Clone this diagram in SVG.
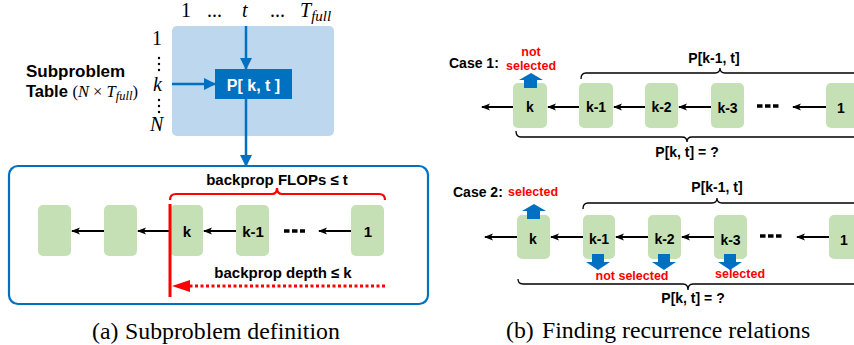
<svg xmlns="http://www.w3.org/2000/svg" width="854" height="345" viewBox="0 0 854 345">
<defs>
<style>
.b{fill:#c5e0b4}
.sans{font-family:"Liberation Sans",Arial,sans-serif;font-weight:bold}
.lbl{font-family:"Liberation Sans",Arial,sans-serif;font-weight:bold;font-size:15px;fill:#000;text-anchor:middle}
.lbl2{font-family:"Liberation Sans",Arial,sans-serif;font-weight:bold;font-size:14px;fill:#000;text-anchor:middle}
.red{font-family:"Liberation Sans",Arial,sans-serif;font-weight:bold;font-size:12.5px;fill:#ff0000;text-anchor:middle}
.math{font-family:"Liberation Serif","Times New Roman",serif;font-style:italic;font-size:20px;fill:#000}
.num{font-family:"Liberation Serif","Times New Roman",serif;font-size:20px;fill:#000}
.cap{font-family:"Liberation Serif","Times New Roman",serif;font-size:23.8px;fill:#000}
.arr{stroke:#000;stroke-width:2;fill:none;marker-end:url(#ah)}
.dash{stroke:#000;stroke-width:3.5;stroke-dasharray:5.5,2.5;fill:none}
.brace{stroke:#000;stroke-width:1.3;fill:none}
.barrow{fill:#0070c0}
</style>
<marker id="ah" markerWidth="9" markerHeight="8" refX="8" refY="4" orient="auto" markerUnits="userSpaceOnUse">
<path d="M0,0.6 L9,4 L0,7.4 L2.2,4 Z" fill="#000"/>
</marker>
<marker id="bh" markerWidth="12" markerHeight="12" refX="11" refY="6" orient="auto" markerUnits="userSpaceOnUse">
<path d="M0,0 L12,6 L0,12 Z" fill="#0070c0"/>
</marker>
</defs>

<!-- (a) Subproblem table -->
<g id="table">
<rect x="172" y="26" width="162" height="110" rx="5" fill="#bdd7ee"/>
<text class="num" x="181" y="17">1</text>
<text class="num" x="207" y="17">...</text>
<text class="math" x="242" y="17">t</text>
<text class="num" x="270" y="17">...</text>
<text class="math" x="300" y="17">T<tspan font-size="15" dy="4">full</tspan></text>
<text class="num" x="152" y="45">1</text>
<g fill="#000"><circle cx="159" cy="58" r="1.2"/><circle cx="159" cy="64" r="1.2"/><circle cx="159" cy="70" r="1.2"/><circle cx="159" cy="100" r="1.2"/><circle cx="159" cy="106" r="1.2"/><circle cx="159" cy="112" r="1.2"/></g>
<text class="math" x="153" y="91">k</text>
<text class="math" x="150" y="131">N</text>
<text class="sans" x="26" y="77" font-size="17">Subproblem</text>
<text x="26" y="97"><tspan class="sans" font-size="16.5">Table </tspan><tspan font-family="Liberation Serif,serif" font-size="16.5">(</tspan><tspan font-family="Liberation Serif,serif" font-style="italic" font-size="16.5">N</tspan><tspan font-family="Liberation Serif,serif" font-size="16.5"> × </tspan><tspan font-family="Liberation Serif,serif" font-style="italic" font-size="16.5">T</tspan><tspan font-family="Liberation Serif,serif" font-style="italic" font-size="12.5" dy="3">full</tspan><tspan font-family="Liberation Serif,serif" font-size="16.5" dy="-3">)</tspan></text>
</g>
<g id="pkt">
<rect x="215" y="69" width="77" height="30" fill="#0070c0"/>
<text class="sans" x="253.5" y="91" font-size="16" fill="#fff" text-anchor="middle">P[ k, t ]</text>
</g>

<!-- (a) detail box -->
<g id="detail">
<rect x="9" y="166" width="419" height="138" rx="9" fill="none" stroke="#0070c0" stroke-width="2.2"/>
</g>
<g id="a-n1"><rect class="b" x="38" y="205" width="33" height="51" rx="5"/></g>
<g id="a-n2"><rect class="b" x="104" y="205" width="33" height="51" rx="5"/></g>
<g id="a-k"><rect class="b" x="170" y="205" width="33" height="51" rx="5"/><text class="lbl" x="187" y="237">k</text></g>
<g id="a-k1"><rect class="b" x="236" y="205" width="33" height="51" rx="5"/><text class="lbl" x="253" y="237">k-1</text></g>
<g id="a-1"><rect class="b" x="351" y="205" width="33" height="51" rx="5"/><text class="lbl" x="368" y="237">1</text></g>
<text class="sans" x="277" y="185" font-size="15" text-anchor="middle">backprop FLOPs ≤ t</text>
<text class="sans" x="283" y="278" font-size="15" text-anchor="middle">backprop depth ≤ k</text>

<!-- (b) case 1 -->
<text class="sans" x="449" y="68" font-size="14">Case 1:</text>
<text class="red" x="531" y="56">not</text>
<text class="red" x="531" y="70">selected</text>
<g id="c1-k"><rect class="b" x="513" y="83" width="34" height="45" rx="5"/><text class="lbl2" x="530" y="112">k</text></g>
<g id="c1-k1"><rect class="b" x="579" y="83" width="34" height="45" rx="5"/><text class="lbl2" x="596" y="112">k-1</text></g>
<g id="c1-k2"><rect class="b" x="645" y="83" width="33" height="45" rx="5"/><text class="lbl2" x="661.5" y="112">k-2</text></g>
<g id="c1-k3"><rect class="b" x="711" y="83" width="33" height="45" rx="5"/><text class="lbl2" x="727.5" y="113">k-3</text></g>
<g id="c1-1"><rect class="b" x="826" y="83" width="34" height="45" rx="5"/><text class="lbl2" x="841" y="113">1</text></g>
<text class="sans" x="714" y="63" font-size="14" text-anchor="middle">P[k-1, t]</text>
<text class="sans" x="687" y="157" font-size="14" text-anchor="middle">P[k, t] = ?</text>

<!-- (b) case 2 -->
<text class="sans" x="453" y="197" font-size="14">Case 2:</text>
<text class="red" x="533" y="196">selected</text>
<g id="c2-k"><rect class="b" x="517" y="215" width="33" height="44" rx="5"/><text class="lbl2" x="533" y="244">k</text></g>
<g id="c2-k1"><rect class="b" x="583" y="215" width="32" height="44" rx="5"/><text class="lbl2" x="599" y="244">k-1</text></g>
<g id="c2-k2"><rect class="b" x="648" y="215" width="33" height="44" rx="5"/><text class="lbl2" x="664.5" y="244">k-2</text></g>
<g id="c2-k3"><rect class="b" x="714" y="215" width="33" height="44" rx="5"/><text class="lbl2" x="730.5" y="245">k-3</text></g>
<g id="c2-1"><rect class="b" x="829" y="215" width="34" height="44" rx="5"/><text class="lbl2" x="844" y="245">1</text></g>
<text class="red" x="632" y="280">not selected</text>
<text class="red" x="740" y="278">selected</text>
<text class="sans" x="717" y="192" font-size="14" text-anchor="middle">P[k-1, t]</text>
<text class="sans" x="693" y="303" font-size="14" text-anchor="middle">P[k, t] = ?</text>

<!-- captions -->
<text class="cap" x="92" y="339">(a)</text>
<text class="cap" x="125" y="339">Subproblem definition</text>
<text class="cap" x="506" y="338">(b)</text>
<text class="cap" x="542" y="338">Finding recurrence relations</text>

<!-- connectors -->
<g id="connectors">
<line x1="246" y1="26" x2="246" y2="69" stroke="#0070c0" stroke-width="2.5" marker-end="url(#bh)"/>
<line x1="172" y1="84" x2="215" y2="84" stroke="#0070c0" stroke-width="2.5" marker-end="url(#bh)"/>
<line x1="246" y1="99" x2="246" y2="166" stroke="#0070c0" stroke-width="2.5" marker-end="url(#bh)"/>

<line class="arr" x1="104" y1="231" x2="72" y2="231"/>
<line class="arr" x1="170" y1="231" x2="138" y2="231"/>
<line class="arr" x1="236" y1="231" x2="204" y2="231"/>
<line class="dash" x1="284" y1="231" x2="305" y2="231"/>
<line class="arr" x1="351" y1="231" x2="319" y2="231"/>

<path d="M170,200 Q170,194 176,194 L272,194 Q277,194 277,188 Q277,194 282,194 L379,194 Q385,194 385,200" fill="none" stroke="#ff0000" stroke-width="2.2"/>
<line x1="170" y1="204" x2="170" y2="297" stroke="#ff0000" stroke-width="3"/>
<line x1="385" y1="286" x2="190" y2="286" stroke="#ff0000" stroke-width="3" stroke-dasharray="3,2.5"/>
<polygon points="172,286 190,280 190,292" fill="#ff0000"/>

<line class="arr" x1="513" y1="107" x2="482" y2="107"/>
<line class="arr" x1="579" y1="107" x2="548" y2="107"/>
<line class="arr" x1="645" y1="107" x2="614" y2="107"/>
<line class="arr" x1="711" y1="107" x2="679" y2="107"/>
<line class="dash" x1="757" y1="106" x2="779" y2="106"/>
<line class="arr" x1="826" y1="107" x2="793" y2="107"/>
<path class="brace" d="M581,79 Q581,73 586,73 L715,73 Q720,73 720,68 Q720,73 725,73 L870,73"/>
<path class="brace" d="M516,131 Q516,137 521,137 L682,137 Q687,137 687,142 Q687,137 692,137 L870,137"/>
<path class="barrow" d="M531,73 L543,80 L537,80 L537,88 L524,88 L524,80 L519,80 Z"/>

<line class="arr" x1="517" y1="237" x2="485" y2="237"/>
<line class="arr" x1="583" y1="237" x2="551" y2="237"/>
<line class="arr" x1="648" y1="237" x2="616" y2="237"/>
<line class="arr" x1="714" y1="237" x2="682" y2="237"/>
<line class="dash" x1="760" y1="236" x2="782" y2="236"/>
<line class="arr" x1="829" y1="237" x2="797" y2="237"/>
<path class="brace" d="M583,209 Q583,203 588,203 L712,203 Q717,203 717,198 Q717,203 722,203 L870,203"/>
<path class="brace" d="M518,279 Q518,284 523,284 L683,284 Q688,284 688,290 Q688,284 693,284 L870,284"/>
<path class="barrow" d="M534,204 L546,211 L540,211 L540,219 L527,219 L527,211 L522,211 Z"/>
<path class="barrow" d="M592,254 L604,254 L604,262 L610,262 L598,270 L586,262 L592,262 Z"/>
<path class="barrow" d="M658,254 L670,254 L670,262 L676,262 L664,270 L652,262 L658,262 Z"/>
<path class="barrow" d="M724,254 L736,254 L736,262 L742,262 L730,270 L718,262 L724,262 Z"/>
</g>
</svg>
